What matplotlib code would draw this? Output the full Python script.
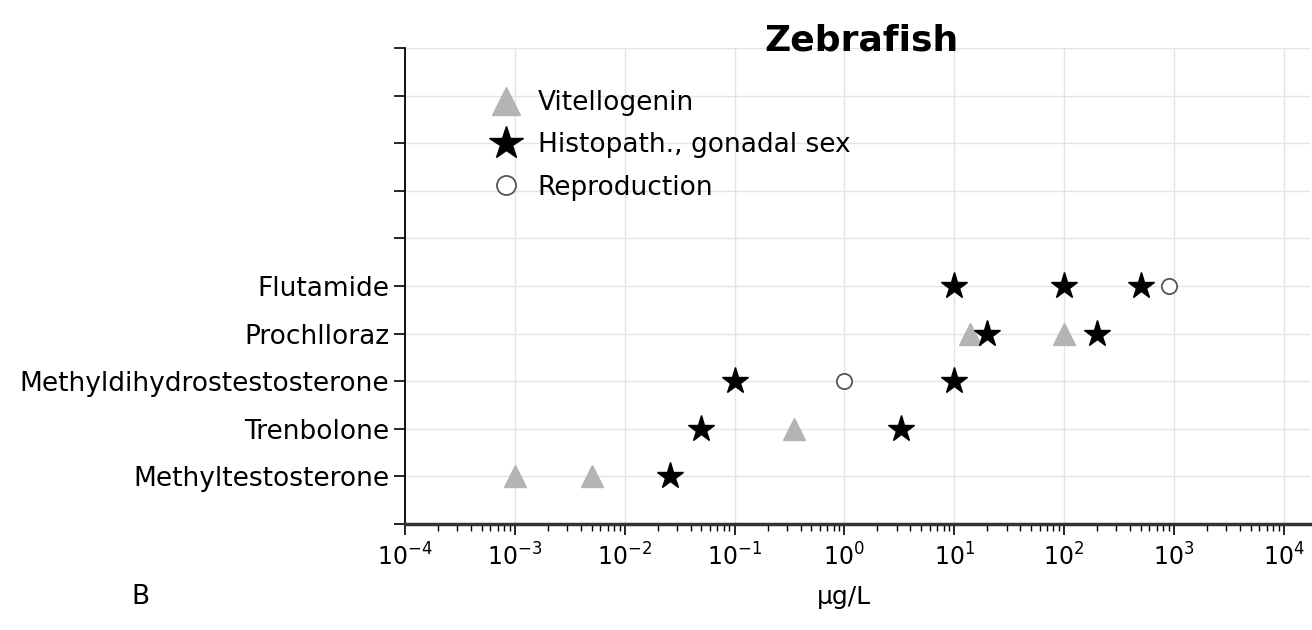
import numpy as np
import matplotlib.pyplot as plt

compounds = ["Methyltestosterone", "Trenbolone", "Methyldihydrostestosterone",
             "Prochlloraz", "Flutamide"]

# (row index, concentration in ug/L)
vtg_rows = [1, 1, 2, 4, 4]
vtg_conc = [0.001, 0.005, 0.35, 14, 100]

histo_rows = [1, 2, 2, 3, 3, 4, 4, 5, 5, 5]
histo_conc = [0.026, 0.05, 3.3, 0.1, 10, 20, 200, 10, 100, 500]

repro_rows = [3, 5]
repro_conc = [1, 900]

decades = np.arange(-4, 5)

plt.rcParams['font.family'] = ['DejaVu Sans']

fig = plt.figure(figsize=(13.12, 6.3), dpi=100)
ax = fig.add_axes([0.3087, 0.1683, 0.6898, 0.7555])

ax.set_xscale("log")
ax.set_xlim(1e-4, 10 ** 4.24)
ax.set_ylim(0, 10)

ax.grid(True, which="major", color="#e4e4e4", linewidth=1)
ax.set_axisbelow(True)

ax.plot(vtg_conc, vtg_rows, ls="none", marker="^", ms=16, color="#b4b4b4",
        mec="#b4b4b4", label="Vitellogenin")
ax.plot(histo_conc, histo_rows, ls="none", marker="*", ms=20, color="black",
        label="Histopath., gonadal sex")
ax.plot(repro_conc, repro_rows, ls="none", marker="o", ms=11, mfc="white",
        mec="#555555", mew=1.3, label="Reproduction")

ax.set_yticks(range(0, 11))
ax.set_yticklabels([""] + compounds + [""] * 5)
ax.set_xticks([10.0 ** d for d in decades])
ax.set_xticklabels([r"$10^{%d}$" % d for d in decades])

ax.tick_params(axis="y", labelsize=19, length=8, width=1.2, direction="out")
ax.tick_params(axis="x", which="major", labelsize=17, length=8, width=1.2,
               direction="out", pad=6)
ax.tick_params(axis="x", which="minor", length=5, width=1)

for s in ["top", "right"]:
    ax.spines[s].set_visible(False)
ax.spines["left"].set_linewidth(1.3)
ax.spines["bottom"].set_linewidth(2.5)
ax.spines["bottom"].set_color("#333333")

ax.legend(loc="upper left", bbox_to_anchor=(0.065, 0.962), frameon=False,
          fontsize=19, handletextpad=0.5, labelspacing=0.62, handlelength=1.4,
          markerscale=1.25)

fig.text(0.657, 0.936, "Zebrafish", fontsize=26, fontweight="bold",
         ha="center", va="center")
fig.text(0.643, 0.052, "µg/L", fontsize=18, ha="center", va="center")
fig.text(0.107, 0.052, "B", fontsize=19, ha="center", va="center")

fig.savefig("out.png", dpi=100)
